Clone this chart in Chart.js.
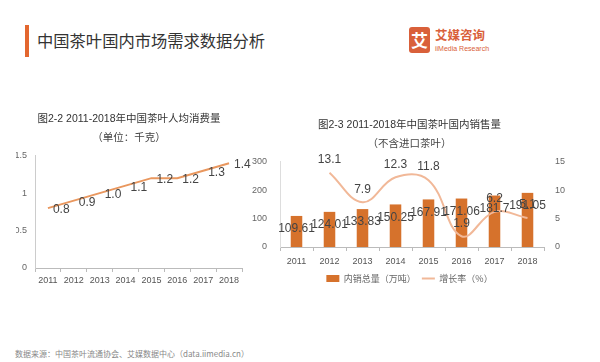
<!DOCTYPE html>
<html>
<head>
<meta charset="utf-8">
<script src="https://cdn.jsdelivr.net/npm/chart.js@4.4.0/dist/chart.umd.min.js"></script>
<style>
  html, body { margin: 0; padding: 0; background: #fff; }
  body { width: 600px; height: 362px; position: relative; overflow: hidden; font-family: 'Noto Sans CJK SC', sans-serif; }
  .title-mark { position: absolute; left: 25px; top: 25px; width: 4px; height: 32px; background: #e3672f; }
  .page-title { position: absolute; left: 37px; top: 28px; font-size: 16.3px; line-height: 24px; color: #333; }
  .logo-box { position: absolute; left: 409px; top: 27px; width: 21px; height: 26px; background: #d9603a; border-radius: 3px; color: #fff; font-size: 17px; line-height: 26px; text-align: center; font-weight: bold; }
  .logo-cn { position: absolute; left: 435px; top: 27px; font-size: 12.5px; line-height: 16px; color: #d9603a; font-weight: bold; }
  .logo-en { position: absolute; left: 435px; top: 44px; font-size: 7px; line-height: 9px; color: #d9603a; font-family: 'Liberation Sans', sans-serif; }
  #leftWrap { position: absolute; left: 0; top: 100px; }
  #rightWrap { position: absolute; left: 240px; top: 100px; }
  .source { position: absolute; left: 15px; top: 348px; font-size: 8px; line-height: 12px; color: #888; }
</style>
</head>
<body>
<div class="title-mark"></div>
<div class="page-title">中国茶叶国内市场需求数据分析</div>
<div class="logo-box">艾</div>
<div class="logo-cn">艾媒咨询</div>
<div class="logo-en">iiMedia Research</div>

<div id="leftWrap"><canvas id="perCapitaChart" width="260" height="192"></canvas></div>
<div id="rightWrap"><canvas id="salesChart" width="355" height="200"></canvas></div>

<div class="source">数据来源：中国茶叶流通协会、艾媒数据中心（data.iimedia.cn）</div>

<script>
// chart data
const years = ['2011', '2012', '2013', '2014', '2015', '2016', '2017', '2018'];
const perCapita = [0.8, 0.9, 1.0, 1.1, 1.2, 1.2, 1.3, 1.4];
const perCapitaTicks = [0, 0.5, 1, 1.5];
const salesVolume = [109.61, 124.01, 133.83, 150.25, 167.91, 171.06, 181.7, 191.05];
const growthRate = [null, 13.1, 7.9, 12.3, 11.8, 1.9, 6.2, 5.1];
const salesTicks = [0, 100, 200, 300];
const growthTicks = [0, 5, 10, 15];

const FONT = "'Liberation Sans', 'Noto Sans CJK SC', sans-serif";
const CJK = "'Noto Sans CJK SC', sans-serif";

// draws the value next to each point/bar, positions come from the chart elements
const valueLabels = {
  id: 'valueLabels',
  afterDatasetsDraw(chart) {
    const ctx = chart.ctx;
    chart.data.datasets.forEach((ds, i) => {
      const cfg = ds.labelStyle;
      if (!cfg) return;
      const meta = chart.getDatasetMeta(i);
      ctx.save();
      ctx.font = cfg.size + 'px ' + FONT;
      ctx.fillStyle = cfg.color;
      ctx.textAlign = cfg.align;
      ctx.textBaseline = 'middle';
      meta.data.forEach((el, j) => {
        const v = ds.data[j];
        if (v == null) return;
        ctx.fillText(cfg.format(v), el.x + cfg.dx, el.y + cfg.dy);
      });
      ctx.restore();
    });
  }
};

function fixedTicks(list) {
  return function (scale) {
    scale.ticks = list.map(v => ({ value: v }));
  };
}

// 图2-2 人均消费量
new Chart(document.getElementById('perCapitaChart').getContext('2d'), {
  type: 'line',
  data: {
    labels: years,
    datasets: [{
      data: perCapita,
      borderColor: '#e9975e',
      borderWidth: 2,
      pointRadius: 0,
      tension: 0,
      labelStyle: { size: 12, color: '#444', align: 'left', dx: 5, dy: 2, format: v => v.toFixed(1) }
    }]
  },
  options: {
    responsive: false,
    animation: false,
    layout: { padding: { top: 0, right: 18, bottom: 3, left: 16 } },
    plugins: {
      legend: { display: false },
      tooltip: { enabled: false },
      title: {
        display: true,
        text: '图2-2 2011-2018年中国茶叶人均消费量',
        color: '#333',
        font: { size: 10.5, weight: 'normal', family: FONT },
        padding: { top: 12.5, bottom: 4 }
      },
      subtitle: {
        display: true,
        text: '（单位：千克）',
        color: '#444',
        font: { size: 10.5, weight: 'normal', family: CJK },
        padding: { top: 2, bottom: 12 }
      }
    },
    scales: {
      x: {
        offset: true,
        grid: { display: true, drawOnChartArea: false, offset: true, tickLength: 4, color: '#bbb' },
        border: { color: '#bbb' },
        ticks: { color: '#555', font: { size: 9, family: FONT }, padding: 3, maxRotation: 0 },
        afterFit(s) { s.height = 21; }
      },
      y: {
        min: 0,
        max: 1.5,
        afterBuildTicks: fixedTicks(perCapitaTicks),
        grid: { display: false, drawTicks: false },
        border: { display: true, color: '#ccc' },
        ticks: { color: '#666', font: { size: 9, family: FONT }, padding: 8, callback: v => String(v) },
        afterFit(s) { s.width = 19; }
      }
    }
  },
  plugins: [valueLabels]
});

// 图2-3 国内销售量
new Chart(document.getElementById('salesChart').getContext('2d'), {
  type: 'bar',
  data: {
    labels: years,
    datasets: [
      {
        type: 'line',
        label: '增长率（%）',
        data: growthRate,
        yAxisID: 'y1',
        borderColor: '#f1b898',
        backgroundColor: '#f1b898',
        borderWidth: 2,
        pointRadius: 0,
        tension: 0.4,
        order: 0,
        labelStyle: { size: 12, color: '#444', align: 'center', dx: 0, dy: -13, format: v => v.toFixed(1) }
      },
      {
        type: 'bar',
        label: '内销总量（万吨）',
        data: salesVolume,
        yAxisID: 'y',
        backgroundColor: '#d6722c',
        barPercentage: 0.35,
        categoryPercentage: 1,
        order: 1,
        labelStyle: { size: 12, color: '#444', align: 'center', dx: 0, dy: 13, format: v => String(v) }
      }
    ]
  },
  options: {
    responsive: false,
    animation: false,
    layout: { padding: { top: 0, right: 16, bottom: 7, left: 0 } },
    plugins: {
      tooltip: { enabled: false },
      title: {
        display: true,
        text: '图2-3 2011-2018年中国茶叶国内销售量',
        color: '#333',
        font: { size: 10.5, weight: 'normal', family: FONT },
        padding: { top: 18.7, bottom: 3.4 }
      },
      subtitle: {
        display: true,
        text: '（不含进口茶叶）',
        color: '#444',
        font: { size: 10.5, weight: 'normal', family: CJK },
        padding: { top: 2, bottom: 12.7 }
      },
      legend: {
        position: 'bottom',
        reverse: true,
        labels: {
          color: '#666',
          font: { size: 9, family: CJK },
          usePointStyle: true,
          pointStyleWidth: 13,
          boxHeight: 7,
          padding: 6,
          generateLabels(chart) {
            const items = Chart.defaults.plugins.legend.labels.generateLabels(chart);
            return items.map(it => {
              const ds = chart.data.datasets[it.datasetIndex];
              if (ds.type === 'line') {
                it.pointStyle = 'line';
                it.strokeStyle = ds.borderColor;
                it.lineWidth = 2;
              } else {
                it.pointStyle = 'rect';
                it.lineWidth = 0;
              }
              return it;
            });
          }
        }
      }
    },
    scales: {
      x: {
        grid: { display: true, drawOnChartArea: false, offset: true, tickLength: 4, color: '#bbb' },
        border: { color: '#bbb' },
        ticks: { color: '#555', font: { size: 9, family: FONT }, padding: 5, maxRotation: 0 },
        afterFit(s) { s.height = 21; }
      },
      y: {
        position: 'left',
        min: 0,
        max: 300,
        afterBuildTicks: fixedTicks(salesTicks),
        grid: { display: false, drawTicks: false },
        border: { display: true, color: '#ddd' },
        ticks: { color: '#666', font: { size: 9, family: FONT }, padding: 13 },
        afterFit(s) { s.width = 40; }
      },
      y1: {
        position: 'right',
        min: 0,
        max: 15,
        afterBuildTicks: fixedTicks(growthTicks),
        grid: { display: false, drawTicks: false },
        border: { display: false },
        ticks: { color: '#666', font: { size: 9, family: FONT }, padding: 11 },
        afterFit(s) { s.width = 35; }
      }
    }
  },
  plugins: [valueLabels]
});
</script>
</body>
</html>
